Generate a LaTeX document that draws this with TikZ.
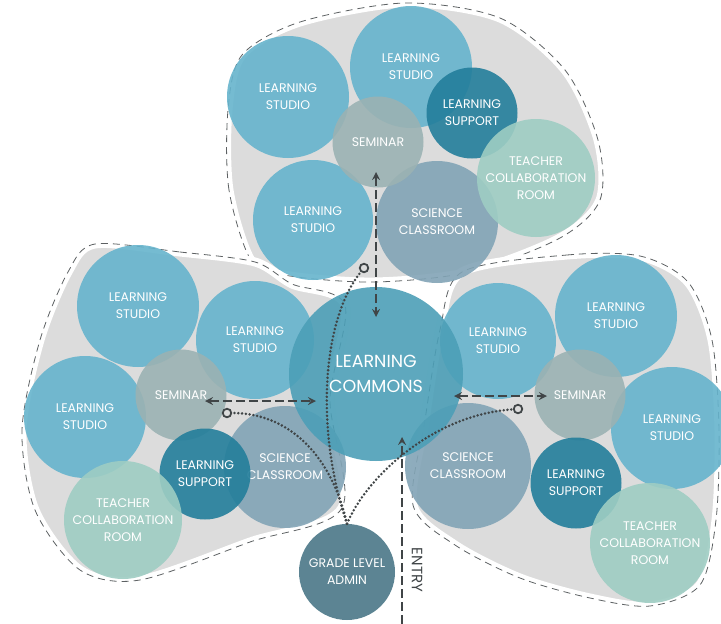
\documentclass[tikz,border=0pt]{standalone}
\usepackage{fontspec}
\setmainfont{Poppins}
\usetikzlibrary{shapes, arrows, positioning}

\definecolor{studiocol}{HTML}{66B4CD}
\definecolor{commonscol}{HTML}{4C9FB7}
\definecolor{seminarcol}{HTML}{9BB2B3}
\definecolor{supportcol}{HTML}{237E9B}
\definecolor{sciencecol}{HTML}{82A4B6}
\definecolor{teachercol}{HTML}{9ECDC3}
\definecolor{admincol}{HTML}{4A7787}
\definecolor{blobcol}{HTML}{DCDCDC}
\definecolor{linecol}{HTML}{404547}

\newcommand{\topblob}{plot[smooth cycle] coordinates {(252,262) (229,190) (228,110) (242,55) (300,22) (405,3) (500,18) (565,70) (598,140) (600,200) (560,238) (470,272) (375,282) (290,276)}}
\newcommand{\leftblob}{plot[smooth cycle] coordinates {(95,244) (180,252) (255,262) (292,284) (345,305) (330,400) (342,508) (250,542) (140,580) (80,570) (35,510) (22,430) (40,340) (68,272)}}
\newcommand{\rightblob}{plot[smooth cycle] coordinates {(462,272) (567,255) (640,256) (688,282) (712,340) (719,430) (716,520) (700,585) (650,606) (590,598) (520,578) (455,545) (413,505) (425,420) (440,330)}}

\begin{document}
\begin{tikzpicture}[
        x=1pt, y=-1pt,
        room/.style={
            circle, inner sep=0pt, fill opacity=0.9, text opacity=1, text=white,
            align=center, font=\fontsize{12.5}{17}\selectfont
        },
        studio/.style={room, fill=studiocol, minimum size=122pt},
        seminar/.style={room, fill=seminarcol, minimum size=91pt},
        support/.style={room, fill=supportcol, minimum size=91pt},
        science/.style={room, fill=sciencecol, minimum size=122pt},
        teacher/.style={room, fill=teachercol, minimum size=118pt},
        blob/.style={fill=blobcol, draw=white, line width=9pt},
        outline/.style={draw=linecol!85, line width=0.8pt, dash pattern=on 7pt off 5pt},
        arrow/.style={<->, >=stealth, draw=linecol, line width=2.5pt, dash pattern=on 9pt off 4pt},
        walk/.style={draw=linecol, line width=2.8pt, line cap=round, dash pattern=on 0pt off 3.8pt},
        ring/.style={circle, draw=linecol, line width=1.8pt, minimum size=8.5pt, inner sep=0pt}
    ]
        \useasboundingbox (0,0) rectangle (721,624);

        % Grade clusters
        \path[blob] \topblob;
        \path[outline] \topblob;
        \path[blob] \leftblob;
        \path[outline] \leftblob;
        \path[blob] \rightblob;
        \path[outline] \rightblob;

        % Top cluster
        \node[studio] (tstudioA) at (288,97) {LEARNING\\STUDIO};
        \node[studio] (tstudioB) at (411,67) {LEARNING\\STUDIO};
        \node[studio, minimum size=120pt] (tstudioC) at (313,220) {LEARNING\\STUDIO};
        \node[science] (tscience) at (437,222) {SCIENCE\\CLASSROOM};
        \node[seminar] (tseminar) at (378,142) {SEMINAR};
        \node[support] (tsupport) at (472,113) {LEARNING\\SUPPORT};
        \node[teacher] (tteacher) at (536,178) {TEACHER\\COLLABORATION\\ROOM};

        % Left cluster
        \node[studio] (lstudioA) at (138,306) {LEARNING\\STUDIO};
        \node[studio, minimum size=118pt] (lstudioB) at (255,340) {LEARNING\\STUDIO};
        \node[studio] (lstudioC) at (85,417) {LEARNING\\STUDIO};
        \node[science] (lscience) at (285,467) {SCIENCE\\CLASSROOM};
        \node[seminar] (lseminar) at (181,395) {SEMINAR};
        \node[support] (lsupport) at (205,474) {LEARNING\\SUPPORT};
        \node[teacher] (lteacher) at (123,520) {TEACHER\\COLLABORATION\\ROOM};

        % Right cluster
        \node[studio, minimum size=116pt] (rstudioA) at (498,341) {LEARNING\\STUDIO};
        \node[studio] (rstudioB) at (616,316) {LEARNING\\STUDIO};
        \node[studio] (rstudioC) at (672,428) {LEARNING\\STUDIO};
        \node[science, minimum size=126pt] (rscience) at (468,466) {SCIENCE\\CLASSROOM};
        \node[seminar] (rseminar) at (580,395) {SEMINAR};
        \node[support] (rsupport) at (576,483) {LEARNING\\SUPPORT};
        \node[teacher, minimum size=120pt] (rteacher) at (650,543) {TEACHER\\COLLABORATION\\ROOM};

        % Centre
        \node[room, fill=commonscol, minimum size=174pt, font=\fontsize{17.5}{25}\selectfont] (commons) at (376,374) {LEARNING\\COMMONS};
        \node[room, fill=admincol, minimum size=96pt] (admin) at (347,572) {GRADE LEVEL\\ADMIN};

        % Links to commons
        \coordinate (tsemdoor) at (376,172);
        \coordinate (tcomdoor) at (376,317);
        \coordinate (lsemdoor) at (205,401);
        \coordinate (lcomdoor) at (316,401);
        \coordinate (rcomdoor) at (454,396);
        \coordinate (rsemdoor) at (547,396);
        \draw[arrow] (tsemdoor) -- (tcomdoor);
        \draw[arrow] (lsemdoor) -- (lcomdoor);
        \draw[arrow] (rcomdoor) -- (rsemdoor);

        % Entry
        \coordinate (entry) at (402,624);
        \coordinate (entrydoor) at (402,437);
        \draw[arrow, ->] (entry) -- (entrydoor);
        \node[rotate=-90, text=linecol, font=\fontsize{15}{15}\selectfont] (entrylabel) at (417,570) {ENTRY};

        % Admin paths
        \node[ring] (tring) at (364,268) {};
        \node[ring] (lring) at (227,413) {};
        \node[ring] (rring) at (518,409) {};
        \draw[walk] (admin.north) .. controls (315,430) and (322,320) .. (tring);
        \draw[walk] (admin.north) .. controls (330,450) and (285,413) .. (lring);
        \draw[walk] (admin.north) .. controls (365,480) and (430,415) .. (rring);

    \end{tikzpicture}
\end{document}
